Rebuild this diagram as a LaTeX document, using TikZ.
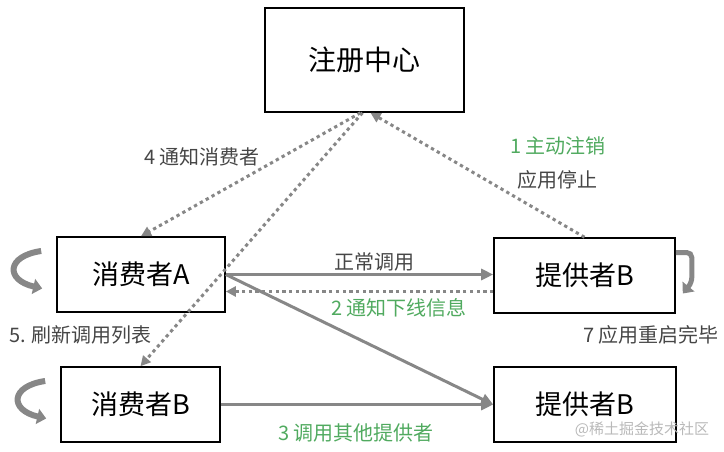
\documentclass[tikz,border=0pt]{standalone}
\usepackage{fontspec}
\setmainfont{Noto Sans CJK SC}
\usetikzlibrary{arrows.meta}
\definecolor{linegray}{RGB}{135,135,135}
\definecolor{labelgray}{RGB}{70,70,70}
\definecolor{stepgreen}{RGB}{80,170,95}
\begin{document}
\begin{tikzpicture}[x=1pt, y=-1pt,
    box/.style={draw, line width=1.6pt, inner sep=0pt, minimum height=75pt, font=\fontsize{27}{32}\selectfont},
    call/.style={draw=linegray, line width=3pt, -{Triangle[length=12pt,width=11pt]}},
    notify/.style={draw=linegray, line width=3pt, dash pattern=on 3.3pt off 3.4pt, -{Triangle[length=10pt,width=10pt]}},
    turn/.style={draw=linegray, line width=6pt, -{Triangle[length=9pt,width=15pt]}},
    note/.style={text=labelgray, font=\fontsize{20}{24}\selectfont},
    stepnote/.style={text=stepgreen, font=\fontsize{20}{24}\selectfont}]
  \useasboundingbox (0, 0) rectangle (724, 451);
  % boxes
  \node[box, minimum width=199pt, minimum height=104pt, font=\fontsize{28}{33}\selectfont] (reg) at (364.5, 60) {注册中心};
  \node[box, minimum width=168pt] (A) at (141, 274.5) {消费者A};
  \node[box, minimum width=159pt] (CB) at (140.5, 404.5) {消费者B};
  \node[box, minimum width=181pt] (PB1) at (584.5, 275.5) {提供者B};
  \node[box, minimum width=182pt] (PB2) at (585, 404.5) {提供者B};
  % calls
  \draw[call] (A.east) -- (A.east -| PB1.west);
  \draw[notify] ([yshift=-16pt]PB1.west) -- ([yshift=-16pt]PB1.west -| A.east);
  \draw[call] (A.east) -- (PB2.west);
  \draw[call] (CB.east) -- (PB2.west);
  % registry
  \draw[notify] ([xshift=-4pt]reg.south) -- (A.north);
  \draw[notify] ([xshift=-2pt]reg.south) -- (CB.north);
  \draw[notify] (PB1.north) -- ([xshift=6pt]reg.south);
  % refresh / restart
  \foreach \c in {A, CB}
    \draw[turn, shift={(\c.west)}] (-15, -23.5) .. controls (-50, -18.5) and (-51, 5.5) .. (-14, 14);
  \draw[turn, line width=5pt, rounded corners=5pt] ([yshift=23pt]PB1.east) -- ++(16, 0) -- ++(0, 30) -- ++(-9, 11);
  % labels
  \node[note] (n4) at (202, 157) {4 通知消费者};
  \node[stepnote] (n1) at (558, 146) {1 主动注销};
  \node[note] (stop) at (557, 180) {应用停止};
  \node[note] (normal) at (374, 262) {正常调用};
  \node[stepnote] (n2) at (399, 308) {2 通知下线信息};
  \node[note] (n5) at (80.5, 335) {5. 刷新调用列表};
  \node[note] (n7) at (651, 335) {7 应用重启完毕};
  \node[stepnote] (n3) at (356, 433) {3 调用其他提供者};
  \node[text=gray!55, font=\fontsize{15}{18}\selectfont] (mark) at (642, 429) {@稀土掘金技术社区};
\end{tikzpicture}
\end{document}
